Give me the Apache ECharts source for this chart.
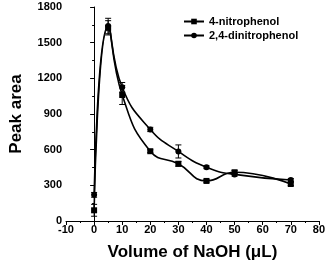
<!DOCTYPE html>
<html><head><meta charset="utf-8">
<script src="https://cdn.jsdelivr.net/npm/echarts@6/dist/echarts.min.js"></script>
<style>html,body{margin:0;padding:0;background:#fff}#c{width:328px;height:266px}</style>
</head><body><div id="c"></div>
<script>
var xValues = [0, 5, 10, 20, 30, 40, 50, 70];
var nitro = [90, 1625, 1060, 587, 481, 337, 410, 311];
var nitroErr = [50, 60, 80, 12, 20, 12, 15, 12];
var dinitro = [220, 1640, 1125, 770, 585, 452, 392, 345];
var dinitroErr = [20, 65, 40, 18, 55, 12, 15, 12];
var xTicks = [-10, 0, 10, 20, 30, 40, 50, 60, 70, 80];
var yTicks = [0, 300, 600, 900, 1200, 1500, 1800];

function pairs(v){return xValues.map(function(x,i){return [x,v[i]];});}
function errData(v,e){return xValues.map(function(x,i){return [x,v[i]-e[i],v[i]+e[i]];});}
function errSeries(v,e){
  return {type:'custom', silent:true, z:1, data:errData(v,e),
    renderItem:function(params,api){
      var lo=api.coord([api.value(0),api.value(1)]);
      var hi=api.coord([api.value(0),api.value(2)]);
      var w=3;
      var st={stroke:'#000',lineWidth:1};
      return {type:'group',children:[
        {type:'line',shape:{x1:lo[0],y1:lo[1],x2:hi[0],y2:hi[1]},style:st},
        {type:'line',shape:{x1:lo[0]-w,y1:lo[1],x2:lo[0]+w,y2:lo[1]},style:st},
        {type:'line',shape:{x1:hi[0]-w,y1:hi[1],x2:hi[0]+w,y2:hi[1]},style:st}
      ]};
    }};
}
var font='Liberation Sans, Arial, sans-serif';
var chart=echarts.init(document.getElementById('c'));
chart.setOption({
  animation:false,
  grid:{left:53,right:6,top:7,bottom:43.3},
  legend:{
    top:11, left:178, orient:'vertical', itemGap:3, itemWidth:20, itemHeight:7,
    textStyle:{fontFamily:font,fontWeight:'bold',fontSize:11,color:'#000'},
    data:['4-nitrophenol','2,4-dinitrophenol']
  },
  xAxis:{type:'value',min:-10,max:80,interval:10,
    name:'Volume of NaOH (\u03bcL)',nameLocation:'middle',nameGap:23,
    nameTextStyle:{fontFamily:font,fontWeight:'bold',fontSize:17,color:'#000'},
    axisLine:{lineStyle:{color:'#000',width:1}},
    axisTick:{inside:false,length:4,lineStyle:{color:'#000'}},
    minorTick:{show:true,splitNumber:2,length:2,lineStyle:{color:'#000'}},
    splitLine:{show:false},
    axisLabel:{fontFamily:font,fontWeight:'bold',fontSize:11,color:'#000',margin:3,
      formatter:function(v){return String(v);}}},
  yAxis:{type:'value',min:0,max:1800,interval:300,
    name:'Peak area',nameLocation:'middle',nameGap:41,
    nameTextStyle:{fontFamily:font,fontWeight:'bold',fontSize:17,color:'#000'},
    axisLine:{show:true,lineStyle:{color:'#000',width:1}},
    axisTick:{show:true,inside:false,length:4,lineStyle:{color:'#000'}},
    minorTick:{show:true,splitNumber:2,length:2,lineStyle:{color:'#000'}},
    splitLine:{show:false},
    axisLabel:{fontFamily:font,fontWeight:'bold',fontSize:11,color:'#000',margin:4,
      formatter:function(v){return String(v);}}},
  series:[
    {name:'4-nitrophenol',type:'line',data:pairs(nitro),smooth:0.5,
     symbol:'rect',symbolSize:6,itemStyle:{color:'#000'},lineStyle:{color:'#000',width:1.6},z:3},
    {name:'2,4-dinitrophenol',type:'line',data:pairs(dinitro),smooth:0.5,
     symbol:'circle',symbolSize:6,itemStyle:{color:'#000'},lineStyle:{color:'#000',width:1.6},z:3},
    errSeries(nitro,nitroErr),
    errSeries(dinitro,dinitroErr)
  ]
});
</script></body></html>
